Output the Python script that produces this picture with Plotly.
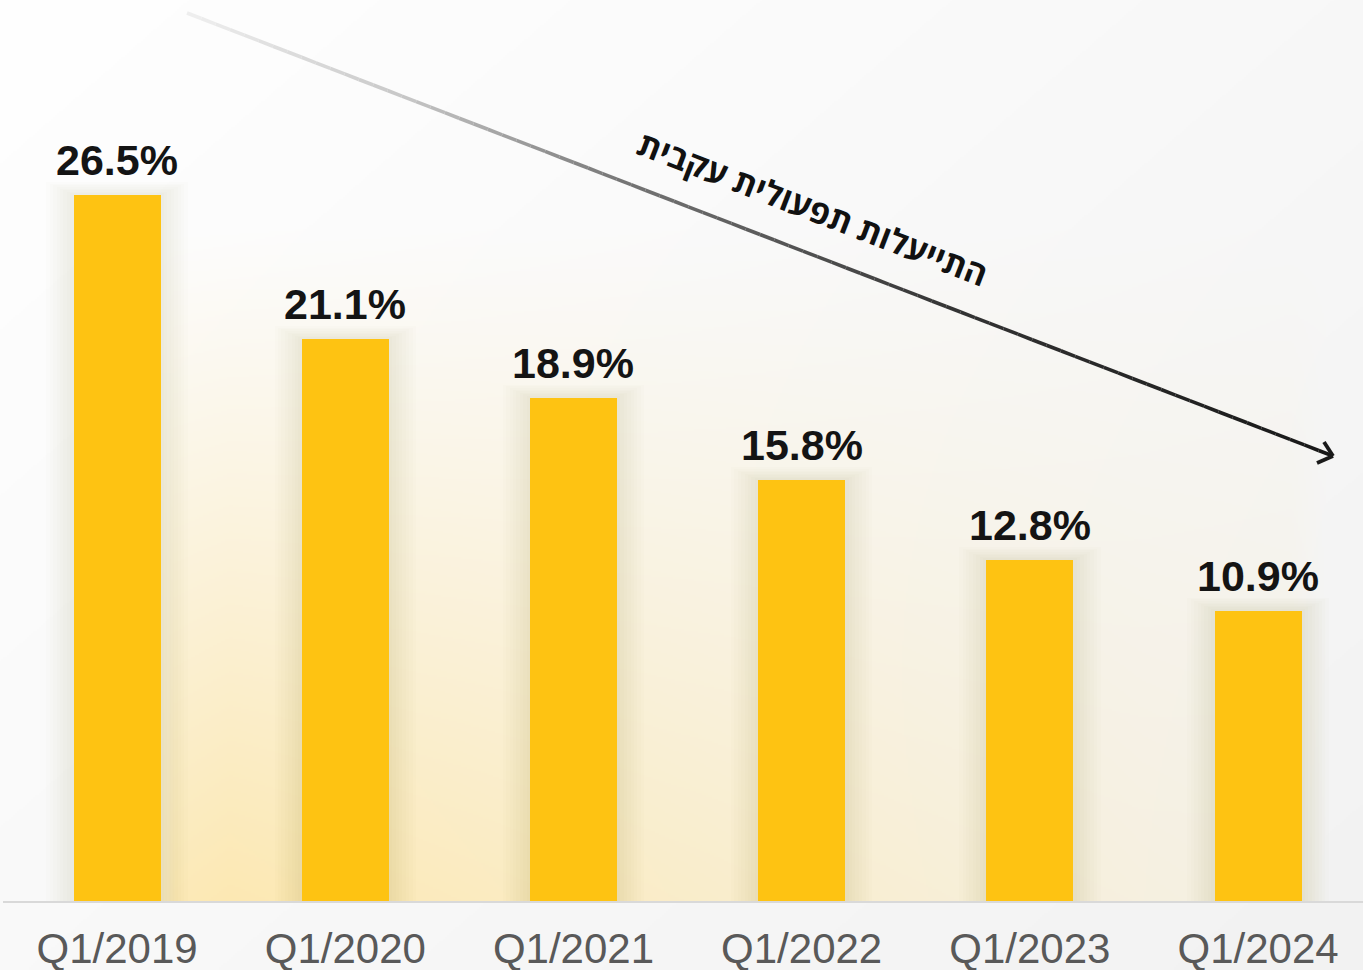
import base64, struct, zlib
import numpy as np
import plotly.graph_objects as go

# ---------------- data ----------------
categories = ["Q1/2019", "Q1/2020", "Q1/2021", "Q1/2022", "Q1/2023", "Q1/2024"]
values = [26.5, 21.1, 18.9, 15.8, 12.8, 10.9]
labels = ["26.5%", "21.1%", "18.9%", "15.8%", "12.8%", "10.9%"]
trend_text = "התייעלות תפעולית עקבית"

W, H = 1363, 970
ML, MR, MT, MB = 3, 0, 0, 69
PW, PH = W - ML - MR, H - MT - MB
BAR_COLOR = "#FEC312"
BAR_W = 0.381


def px2paper(px, py):
    return (px - ML) / PW, (H - MB - py) / PH


# ---------------- background image (decorative gradient + warm glow) ----------------
def make_png(arr):
    h, w, _ = arr.shape
    raw = b"".join(b"\x00" + arr[i].tobytes() for i in range(h))

    def chunk(t, d):
        c = struct.pack(">I", len(d)) + t + d
        return c + struct.pack(">I", zlib.crc32(t + d) & 0xFFFFFFFF)

    png = b"\x89PNG\r\n\x1a\n"
    png += chunk(b"IHDR", struct.pack(">IIBBBBB", w, h, 8, 2, 0, 0, 0))
    png += chunk(b"IDAT", zlib.compress(raw, 9))
    png += chunk(b"IEND", b"")
    return "data:image/png;base64," + base64.b64encode(png).decode()


S = 2
iw, ih = W // S, H // S
xs = (np.arange(iw) + 0.5) * S
ys = (np.arange(ih) + 0.5) * S
X, Y = np.meshgrid(xs, ys)
t = (X / W * 0.55 + Y / H * 0.45)
base = 255 - 13 * t
img = np.stack([base, base, base], axis=-1)
fy = np.clip((Y - 230) / 671, 0, 1) ** 1.1
fy[Y > 901] = 0
fx = np.interp(X, [140, 175, 230, 1140, 1290, 1325], [0, 0.8, 0.86, 0.26, 0.2, 0])
a = (fy * fx)[..., None]
yellow = np.array([253, 230, 168], dtype=float)
img = img * (1 - a) + yellow * a
img = np.clip(img, 0, 255).astype(np.uint8)
bg_uri = make_png(img)

fig = go.Figure()

# soft shadow layers around bars
n_sh = 8
for k in range(n_sh, 0, -1):
    extra_px = k * 3.4
    fig.add_trace(go.Bar(
        x=categories,
        y=[v + k * 0.06 for v in values],
        width=BAR_W + 2 * extra_px / (PW / 5.96),
        marker=dict(color="rgba(50,45,35,0.012)", line=dict(width=0)),
        hoverinfo="skip",
        showlegend=False,
    ))

fig.add_trace(go.Bar(
    x=categories,
    y=values,
    width=BAR_W,
    marker=dict(color=BAR_COLOR, line=dict(width=0)),
    showlegend=False,
    hovertemplate="%{x}: %{y}%<extra></extra>",
))

# value labels
for c, v, lab in zip(categories, values, labels):
    fig.add_annotation(
        x=c, y=v, text=lab, showarrow=False, yanchor="bottom", yshift=9,
        font=dict(family="Liberation Sans, Arial, sans-serif", size=43, color="#141414", weight="bold"),
    )

# gradient trend arrow
x0, y0, x1, y1 = 187, 13, 1333, 456
stops_t = [0, 0.19, 0.38, 0.67, 1.0]
stops_g = [240, 200, 118, 52, 24]
nseg = 80
for i in range(nseg):
    ta, tb = i / nseg, (i + 1) / nseg
    g = int(np.interp((ta + tb) / 2, stops_t, stops_g))
    pa = px2paper(x0 + (x1 - x0) * ta, y0 + (y1 - y0) * ta)
    pb = px2paper(x0 + (x1 - x0) * tb, y0 + (y1 - y0) * tb)
    fig.add_shape(type="line", xref="paper", yref="paper",
                  x0=pa[0], y0=pa[1], x1=pb[0], y1=pb[1],
                  line=dict(color=f"rgb({g},{g},{g})", width=3.6))
tip = px2paper(1333, 456)
for hx, hy in [(1324, 442), (1317, 463)]:
    p = px2paper(hx, hy)
    fig.add_shape(type="line", xref="paper", yref="paper",
                  x0=p[0], y0=p[1], x1=tip[0], y1=tip[1],
                  line=dict(color="#1a1a1a", width=3.8))

tx, ty = px2paper(813, 208)
fig.add_annotation(
    xref="paper", yref="paper", x=tx, y=ty, text=trend_text, showarrow=False,
    textangle=21.1, xanchor="center", yanchor="middle",
    font=dict(family="Open Sans, DejaVu Sans, sans-serif", size=33, color="#111111", weight="bold"),
)

bx, by = px2paper(0, 0)
fig.update_layout(
    width=W, height=H,
    margin=dict(l=ML, r=MR, t=MT, b=MB, pad=0, autoexpand=False),
    paper_bgcolor="#ffffff",
    plot_bgcolor="rgba(0,0,0,0)",
    barmode="overlay",
    bargap=0,
    showlegend=False,
    images=[dict(source=bg_uri, xref="paper", yref="paper", x=bx, y=by,
                 sizex=W / PW, sizey=H / PH, xanchor="left", yanchor="top",
                 sizing="stretch", layer="below")],
    xaxis=dict(
        type="category", range=[-0.5, 5.46], showgrid=False, zeroline=False,
        showline=True, linecolor="#d9d9d9", linewidth=2, ticks="",
        ticklabelstandoff=10, automargin=False,
        tickfont=dict(family="Liberation Sans, Arial, sans-serif", size=42, color="#595959"),
        fixedrange=True,
    ),
    yaxis=dict(range=[0, PH / 26.64], visible=False, fixedrange=True, automargin=False),
)

fig.write_html(
    "out.html",
    config={"displayModeBar": False},
    post_script="document.body.style.margin='0px';document.body.style.overflow='hidden';",
)
